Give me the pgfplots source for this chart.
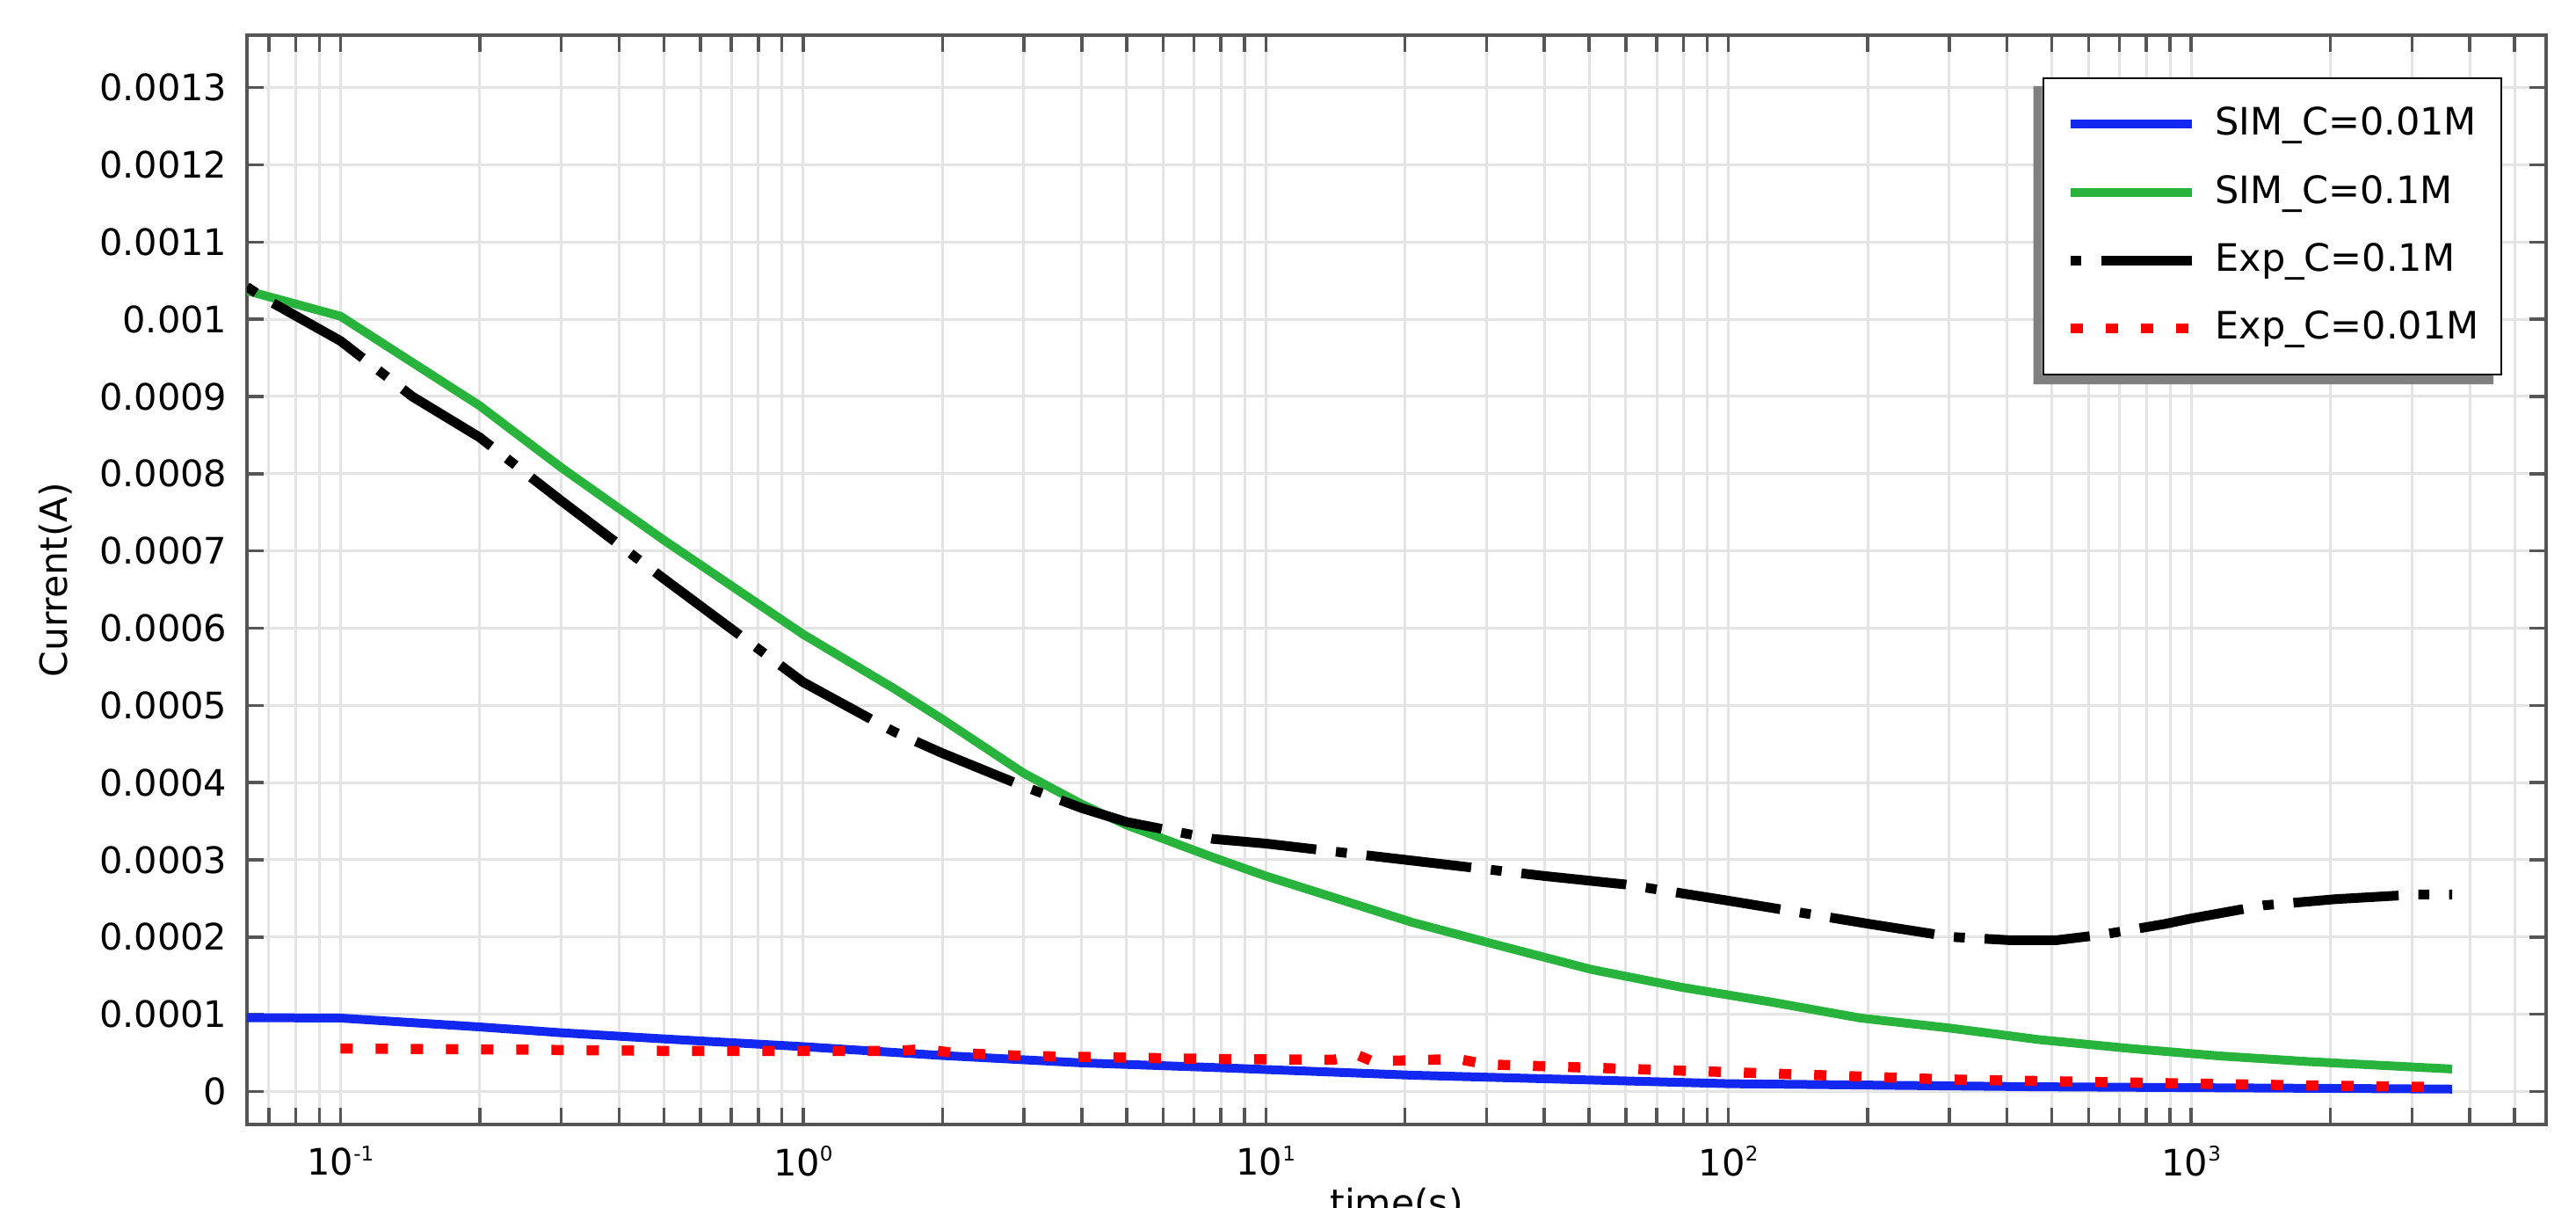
\documentclass[border=0pt]{standalone}
\usepackage{fontspec}
\setmainfont{DejaVu Sans}
\usepackage{pgfplots}
\pgfplotsset{compat=1.18}

\definecolor{simblue}{RGB}{18,40,240}
\definecolor{simgreen}{RGB}{40,180,60}
\definecolor{axisgray}{RGB}{85,85,85}
\definecolor{gridgray}{RGB}{228,228,228}
% power of ten label, small raised exponent
\newcommand{\tp}[1]{10\raisebox{3.3pt}{\fontsize{4.6}{5}\selectfont #1}}

\begin{document}
\begin{tikzpicture}
\begin{axis}[
    at={(0,0)}, anchor=south west,
    scale only axis,
    width=523.2pt, height=247.8pt,
    xmode=log,
    xmin=0.0628, xmax=5850,
    ymin=-0.0000428, ymax=0.001368,
    xtick={0.1,1,10,100,1000},
    xticklabels={\tp{-1},\tp{0},\tp{1},\tp{2},\tp{3}},
    minor xtick={0.07,0.08,0.09,0.2,0.3,0.4,0.5,0.6,0.7,0.8,0.9,
                 2,3,4,5,6,7,8,9,20,30,40,50,60,70,80,90,
                 200,300,400,500,600,700,800,900,2000,3000,4000,5000},
    ytick={0,0.0001,0.0002,0.0003,0.0004,0.0005,0.0006,0.0007,
           0.0008,0.0009,0.001,0.0011,0.0012,0.0013},
    yticklabels={0,0.0001,0.0002,0.0003,0.0004,0.0005,0.0006,0.0007,
                 0.0008,0.0009,0.001,0.0011,0.0012,0.0013},
    scaled y ticks=false,
    ticklabel style={font=\fontsize{8.3}{10}\selectfont},
    yticklabel style={xshift=-1pt},
    xticklabel style={yshift=-1.4pt},
    axis line style={axisgray, line width=0.8pt},
    tick style={axisgray, line width=0.7pt},
    major tick length=3.8pt, minor tick length=3.8pt,
    xmajorgrids, xminorgrids, ymajorgrids,
    major grid style={gridgray, line width=0.6pt},
    minor grid style={gridgray, line width=0.6pt},
    xlabel={time(s)}, ylabel={Current(A)},
    label style={font=\fontsize{8.5}{10}\selectfont},
    xlabel style={at={(axis description cs:0.5,0)}, anchor=north, inner sep=0pt, yshift=-14.2pt},
    ylabel style={at={(axis description cs:-0.0833,0.5)}, anchor=center, inner sep=0pt},
    legend image code/.code={\draw[#1] (0pt,0pt) -- (27.6pt,0pt);},
    legend cell align=left,
    legend style={
        name=leg,
        at={(rel axis cs:1,1)}, anchor=north east, xshift=-10pt, yshift=-9.6pt,
        draw=black, line width=0.5pt, fill=white,
        font=\fontsize{8.6}{10}\selectfont,
        inner xsep=5pt, inner ysep=6.5pt,
        row sep=7.6pt, column sep=4.2pt,
        nodes={inner sep=0pt}
    },
]

% SIM, C = 0.01 M
\addplot[simblue, line width=2pt, line join=round] coordinates {
  (0.0628,0.955e-4) (0.1,0.95e-4) (0.2,0.835e-4) (0.3,0.76e-4)
  (0.5,0.68e-4) (1,0.58e-4) (2,0.465e-4) (4,0.37e-4) (7.7,0.31e-4)
  (20.7,0.21e-4) (100,0.10e-4) (470,0.06e-4) (3664,0.03e-4)
};

% SIM, C = 0.1 M
\addplot[simgreen, line width=2pt, line join=round] coordinates {
  (0.0628,1.037e-3) (0.1,1.004e-3) (0.2,8.88e-4) (0.3,8.08e-4)
  (0.5,7.14e-4) (1,5.92e-4) (1.57,5.22e-4) (2,4.82e-4) (3,4.12e-4)
  (4,3.72e-4) (5,3.45e-4) (7.7,3.03e-4) (10,2.79e-4) (20.7,2.19e-4)
  (32.4,1.88e-4) (50.5,1.58e-4) (78.9,1.35e-4) (123,1.16e-4)
  (193,0.95e-4) (301,0.82e-4) (470,0.67e-4) (735,0.557e-4)
  (1148,0.46e-4) (1794,0.386e-4) (3664,0.29e-4)
};

% experiment, C = 0.1 M
\addplot[black, line width=2.2pt, line join=round,
         dash pattern=on 2.5pt off 4.5pt on 24pt off 4.5pt] coordinates {
  (0.0628,1.042e-3) (0.0686,1.027e-3) (0.1,9.72e-4) (0.143,9.0e-4)
  (0.2,8.47e-4) (0.3,7.65e-4) (0.5,6.64e-4) (1,5.30e-4) (1.57,4.66e-4)
  (2,4.38e-4) (3,3.95e-4) (4,3.67e-4) (5,3.49e-4) (7.7,3.27e-4)
  (10,3.21e-4) (20,3.0e-4) (40,2.79e-4) (60,2.68e-4) (100,2.47e-4)
  (201,2.17e-4) (305,2.0e-4) (402,1.96e-4) (514,1.96e-4) (643,2.03e-4)
  (879,2.17e-4) (1000,2.24e-4) (1435,2.41e-4) (2052,2.49e-4)
  (3063,2.55e-4) (3664,2.55e-4)
};

% experiment, C = 0.01 M
\addplot[red, line width=2.3pt, dash pattern=on 2.8pt off 5.2pt] coordinates {
  (0.1,0.555e-4) (0.2,0.545e-4) (0.5,0.525e-4) (1,0.525e-4)
  (1.6,0.525e-4) (1.83,0.55e-4) (2.1,0.50e-4) (3,0.46e-4) (6,0.43e-4)
  (7.7,0.42e-4) (14,0.41e-4) (15.8,0.47e-4) (17,0.39e-4) (26,0.42e-4)
  (30,0.35e-4) (100,0.25e-4) (301,0.154e-4) (735,0.115e-4)
  (1794,0.077e-4) (3350,0.058e-4)
};

\legend{SIM\_C=0.01M, SIM\_C=0.1M, Exp\_C=0.1M, Exp\_C=0.01M}
\end{axis}
% legend drop shadow, offset down and to the left
\fill[gray] ([xshift=-2pt,yshift=-2pt]leg.south west) -- ([xshift=-2pt,yshift=-2pt]leg.south east)
  -- ([xshift=-2pt]leg.south east) -- (leg.south west) -- ([yshift=-2pt]leg.north west)
  -- ([xshift=-2pt,yshift=-2pt]leg.north west) -- cycle;
\pgfresetboundingbox
\path[use as bounding box] (-56.2pt,-19pt) rectangle (530pt,255.8pt);
\end{tikzpicture}
\end{document}
